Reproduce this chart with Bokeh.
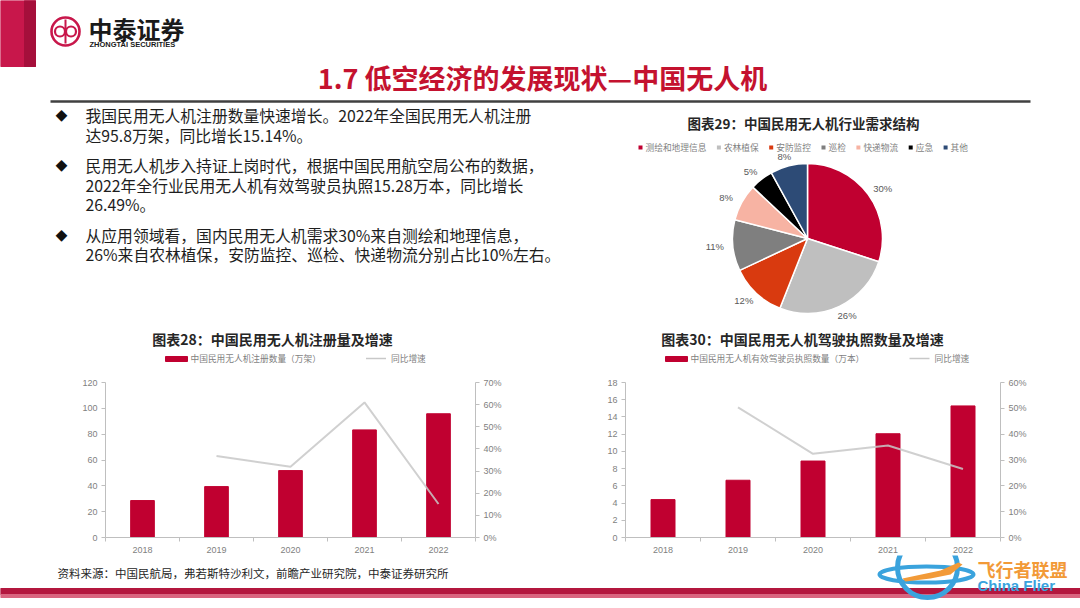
import math
from bokeh.plotting import figure
from bokeh.layouts import column, row
from bokeh.models import Range1d, LinearAxis, FixedTicker, NumeralTickFormatter
from bokeh.core.properties import value
from bokeh.embed import file_html
from bokeh.resources import INLINE

# ---------------- data ----------------
years = ["2018", "2019", "2020", "2021", "2022"]
reg_volume = [28.6, 39.4, 51.8, 83.3, 95.8]          # 万架
reg_growth = [0.368, 0.320, 0.610, 0.1514]           # 2019-2022
lic_volume = [4.4, 6.65, 8.88, 12.05, 15.28]         # 万本
lic_growth = [0.504, 0.324, 0.356, 0.2649]           # 2019-2022

demand_labels = ["测绘和地理信息", "农林植保", "安防监控", "巡检", "快递物流", "应急", "其他"]
demand_share = [30, 26, 12, 11, 8, 5, 8]
demand_colors = ["#C00030", "#BFBFBF", "#D93A0F", "#7F7F7F", "#F7B3A3", "#000000", "#2D4B76"]

slide_title = "1.7 低空经济的发展现状—中国无人机"
bullets = [
    ["我国民用无人机注册数量快速增长。2022年全国民用无人机注册",
     "达95.8万架，同比增长15.14%。"],
    ["民用无人机步入持证上岗时代，根据中国民用航空局公布的数据，",
     "2022年全行业民用无人机有效驾驶员执照15.28万本，同比增长",
     "26.49%。"],
    ["从应用领域看，国内民用无人机需求30%来自测绘和地理信息，",
     "26%来自农林植保，安防监控、巡检、快递物流分别占比10%左右。"],
]
pie_title = "图表29：中国民用无人机行业需求结构"
c1_title = "图表28：中国民用无人机注册量及增速"
c1_legend = ["中国民用无人机注册数量（万架）", "同比增速"]
c2_title = "图表30：中国民用无人机驾驶执照数量及增速"
c2_legend = ["中国民用无人机有效驾驶员执照数量（万本）", "同比增速"]
source = "资料来源：中国民航局，弗若斯特沙利文，前瞻产业研究院，中泰证券研究所"

CJK = value("Noto Sans CJK SC")
LAT = value("Liberation Sans")
RED = "#C00030"
BRAND = "#C8174B"
TXT = "#1E1E1E"
GRAYTXT = "#7F7F7F"
LINEGRAY = "#C8C8C8"


def canvas(w, h):
    p = figure(width=w, height=h, x_range=Range1d(0, w), y_range=Range1d(h, 0),
               output_backend="svg", toolbar_location=None, title=None,
               x_axis_location=None, y_axis_location=None, min_border=0,
               outline_line_color=None, background_fill_color="white",
               border_fill_color="white")
    p.grid.visible = False
    return p


# ---------------- top canvas (header, bullets, pie, chart titles) ----------------
TOP_H = 370
top = canvas(1080, TOP_H)

# header block + logo
top.quad(left=0, right=35, top=0, bottom=66, color=BRAND)
top.quad(left=24, right=35, top=0, bottom=66, color="#A50F3B")
top.circle(x=65, y=31, radius=14, fill_color=None, line_color=BRAND, line_width=2.6)
top.circle(x=[59.5, 70.5], y=[31, 31], radius=5, fill_color=None, line_color=BRAND, line_width=2.2)
top.segment(x0=65, y0=19, x1=65, y1=43, line_color=BRAND, line_width=2)
top.text(x=[88], y=[28], text=["中泰证券"], text_font=CJK, text_font_style="bold",
         text_font_size="24px", text_color="#1A1A1A", text_baseline="middle")
top.text(x=[89], y=[44], text=["ZHONGTAI SECURITIES"], text_font=LAT, text_font_style="bold",
         text_font_size="7.5px", text_color="#1A1A1A", text_baseline="middle")

# slide title + rule
top.text(x=[542], y=[77], text=[slide_title], text_font=CJK, text_font_style="bold",
         text_font_size="27px", text_color="#C4122F", text_align="center", text_baseline="middle")
top.segment(x0=50, y0=101, x1=1030, y1=101, line_color="#404040", line_width=2.5)

# bullet text
y = 115
line_h, para_gap = 19.5, 11
bx, by, lx, ly, lt = [], [], [], [], []
for para in bullets:
    bx.append(61)
    by.append(y)
    for ln in para:
        lx.append(85)
        ly.append(y)
        lt.append(ln)
        y += line_h
    y += para_gap
top.text(x=bx, y=by, text=["◆"] * len(bx), text_font=CJK, text_font_size="12px",
         text_color="#111111", text_align="center", text_baseline="middle")
top.text(x=lx, y=ly, text=lt, text_font=CJK, text_font_size="15.8px",
         text_color=TXT, text_baseline="middle")

# pie chart
PCX, PCY, PR = 807, 238, 75
top.text(x=[803], y=[122], text=[pie_title], text_font=CJK, text_font_style="bold",
         text_font_size="13.5px", text_color="#262626", text_align="center", text_baseline="middle")
tot = float(sum(demand_share))
cum = 0.0
starts, ends, lxs, lys, ltx = [], [], [], [], []
for s in demand_share:
    a0 = math.pi / 2 - 2 * math.pi * cum / tot
    a1 = math.pi / 2 - 2 * math.pi * (cum + s) / tot
    starts.append(a1)
    ends.append(a0)
    mid = (a0 + a1) / 2
    lxs.append(PCX + 93 * math.cos(mid))
    lys.append(PCY - 85 * math.sin(mid))
    ltx.append(f"{s}%")
    cum += s
top.wedge(x=PCX, y=PCY, radius=PR, start_angle=starts, end_angle=ends,
          fill_color=demand_colors, line_color="white", line_width=1.5)
top.text(x=lxs, y=lys, text=ltx, text_font=LAT, text_font_size="9.5px",
         text_color="#595959", text_align="center", text_baseline="middle")

# pie legend (flowed)
lfs = 8.7
mx, tx = [], []
x = 638
for lab in demand_labels:
    mx.append(x + 2)
    tx.append(x + 7)
    x += 7 + len(lab) * lfs + 10.5
top.scatter(x=mx, y=[147] * len(mx), marker="square", size=4, fill_color=demand_colors,
            line_color=None)
top.text(x=tx, y=[147] * len(tx), text=demand_labels, text_font=CJK,
         text_font_size=f"{lfs}px", text_color=GRAYTXT, text_baseline="middle")


def chart_header(cx_title, title, legend, x_start):
    top.text(x=[cx_title], y=[338], text=[title], text_font=CJK, text_font_style="bold",
             text_font_size="14px", text_color="#262626", text_align="center",
             text_baseline="middle")
    x0 = x_start
    top.quad(left=x0, right=x0 + 22, top=356, bottom=361, color=RED)
    top.text(x=[x0 + 25], y=[358], text=[legend[0]], text_font=CJK,
             text_font_size=f"{lfs}px", text_color=GRAYTXT, text_baseline="middle")
    x1 = x0 + 25 + len(legend[0]) * lfs + 45
    top.segment(x0=x1, y0=358, x1=x1 + 20, y1=358, line_color=LINEGRAY, line_width=1.5)
    top.text(x=[x1 + 25], y=[358], text=[legend[1]], text_font=CJK,
             text_font_size=f"{lfs}px", text_color=GRAYTXT, text_baseline="middle")


chart_header(272, c1_title, c1_legend, 165)
chart_header(802, c2_title, c2_legend, 665)


# ---------------- bar + line charts ----------------
def bar_chart(vals, growth, ymax, ystep, pmax, left, right):
    xs = [i + 1 for i in range(len(years))]
    p = figure(width=540, height=185, x_range=Range1d(0.5, 5.5), y_range=Range1d(0, ymax),
               output_backend="svg", toolbar_location=None, title=None,
               x_axis_location=None, y_axis_location=None,
               min_border_left=left, min_border_right=right,
               min_border_top=12, min_border_bottom=18,
               outline_line_color=None, background_fill_color="white",
               border_fill_color="white")
    p.grid.visible = False
    p.extra_y_ranges = {"pct": Range1d(0, pmax)}
    p.vbar(x=xs, top=vals, width=0.32, color=RED)
    p.line(x=xs[1:], y=growth, y_range_name="pct", line_color=LINEGRAY, line_width=2,
           line_alpha=0.85)

    common = dict(axis_line_color="#BFBFBF", major_tick_line_color="#BFBFBF",
                  major_tick_in=0, major_tick_out=4, minor_tick_line_color=None,
                  major_label_text_font_size="9px", major_label_text_color=GRAYTXT,
                  major_label_text_font="Liberation Sans", major_label_standoff=4)
    ly = LinearAxis(ticker=FixedTicker(ticks=list(range(0, ymax + 1, ystep))), **common)
    p.add_layout(ly, "left")
    nP = int(round(pmax * 10))
    ry = LinearAxis(y_range_name="pct",
                    ticker=FixedTicker(ticks=[k / 10 for k in range(nP + 1)]),
                    formatter=NumeralTickFormatter(format="0%"), **common)
    p.add_layout(ry, "right")
    xa = LinearAxis(ticker=FixedTicker(ticks=xs, minor_ticks=[i + 0.5 for i in range(6)]),
                    major_label_overrides={i + 1: yr for i, yr in enumerate(years)},
                    axis_line_color="#BFBFBF", major_tick_line_color=None,
                    major_tick_in=0, major_tick_out=0,
                    minor_tick_line_color="#BFBFBF", minor_tick_in=0, minor_tick_out=4,
                    major_label_text_font_size="9px", major_label_text_color=GRAYTXT,
                    major_label_text_font="Liberation Sans", major_label_standoff=5)
    p.add_layout(xa, "below")
    return p


c1 = bar_chart(reg_volume, reg_growth, 120, 20, 0.7, 105, 65)
c2 = bar_chart(lic_volume, lic_growth, 18, 2, 0.6, 85, 80)

# ---------------- footer ----------------
FOOT_Y0 = 555
foot = canvas(1080, 608 - FOOT_Y0)
foot.text(x=[57], y=[572 - FOOT_Y0], text=[source], text_font=CJK, text_font_size="11.5px",
          text_color="#262626", text_baseline="middle")
foot.quad(left=0, right=1080, top=588 - FOOT_Y0, bottom=594 - FOOT_Y0, color="#B3173E")
foot.quad(left=0, right=1080, top=594 - FOOT_Y0, bottom=597 - FOOT_Y0, color="#D9657F")
# watermark
foot.circle(x=927, y=567 - FOOT_Y0, radius=30, fill_color=None, line_color="#3AA3DD",
            line_width=5)
foot.ellipse(x=926, y=574 - FOOT_Y0, width=94, height=16, fill_color=None,
             line_color="#3AA3DD", line_width=4)
foot.patch(x=[902, 940, 958, 962, 950, 930, 905],
           y=[578 - FOOT_Y0, 570 - FOOT_Y0, 562 - FOOT_Y0, 564 - FOOT_Y0, 574 - FOOT_Y0,
              578 - FOOT_Y0, 581 - FOOT_Y0], fill_color="#F29A38", line_color=None)
foot.text(x=[977], y=[568 - FOOT_Y0], text=["飞行者联盟"], text_font=CJK,
          text_font_style="bold", text_font_size="18px", text_color="#F29A38",
          text_baseline="middle")
foot.text(x=[977], y=[585 - FOOT_Y0], text=["China Flier"], text_font=LAT,
          text_font_style="bold", text_font_size="15px", text_color="#3AA3DD",
          text_baseline="middle")

layout = column(top, row(c1, c2, spacing=0), foot, spacing=0)
open("out.html", "w").write(file_html(layout, INLINE))
